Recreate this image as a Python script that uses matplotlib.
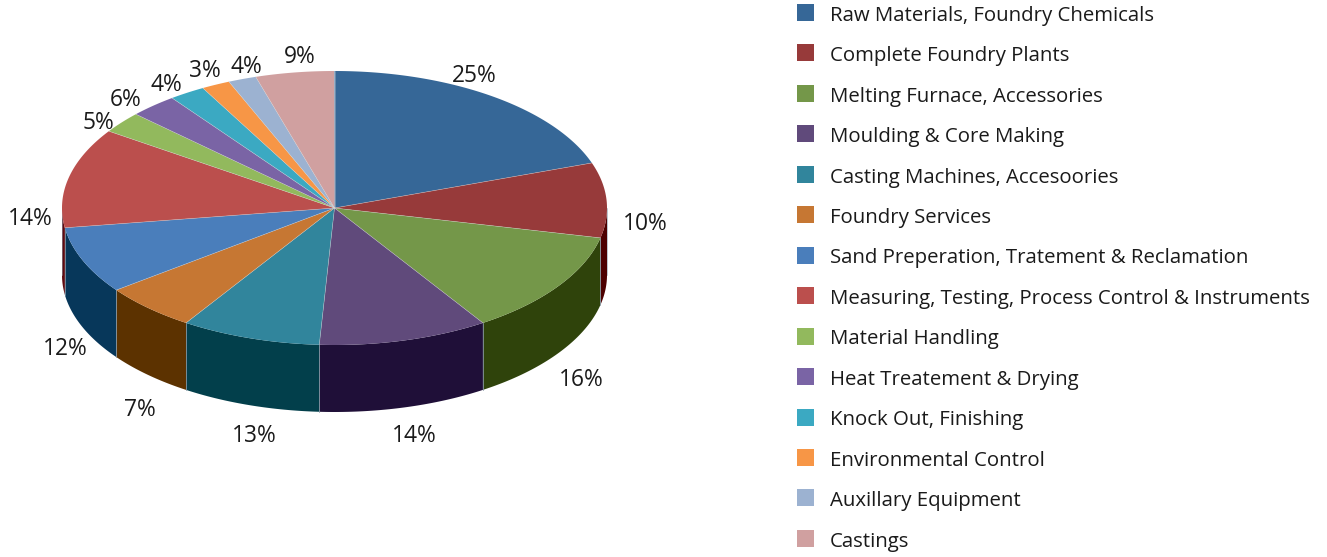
import numpy as np
import matplotlib
matplotlib.use('Agg')
import matplotlib.pyplot as plt
from matplotlib.patches import Rectangle

plt.rcParams['font.family'] = ['Open Sans', 'DejaVu Sans']

categories = ['Raw Materials, Foundry Chemicals', 'Complete Foundry Plants',
              'Melting Furnace, Accessories', 'Moulding & Core Making',
              'Casting Machines, Accesoories', 'Foundry Services',
              'Sand Preperation, Tratement & Reclamation',
              'Measuring, Testing, Process Control & Instruments',
              'Material Handling', 'Heat Treatement & Drying',
              'Knock Out, Finishing', 'Environmental Control',
              'Auxillary Equipment', 'Castings']
# printed labels do not add up to 100, so slice sizes are read separately
pct_labels = [25, 10, 16, 14, 13, 7, 12, 14, 5, 6, 4, 3, 4, 9]
slice_degrees = [70.8, 31.8, 44.4, 36.2, 29.8, 20.2, 28.5, 42.4, 9.1, 10.2, 7.7, 6.1, 6.0, 16.7]

top_colors = ['#366797', '#973A3A', '#749749', '#604A7B', '#31859C', '#C67733', '#4A7EBB',
              '#BB4F4D', '#92B95D', '#7A64A5', '#3BA9C2', '#F79646', '#9CB2D1', '#D0A0A0']
side_colors = ['#366797', '#4D0000', '#2F430B', '#1F0F38', '#023F4B', '#5C3200', '#07375A',
               '#5E0A10', '#92B95D', '#7A64A5', '#3BA9C2', '#F79646', '#9CB2D1', '#D0A0A0']

label_xy = [(474, 76), (645, 224), (581, 380), (414, 436), (254, 436), (140, 410), (65, 349),
            (30, 219), (98, 123), (126, 100), (166, 85), (205, 71), (246, 67), (300, 57)]

cx, cy, rx, ry, depth = 334.5, 208, 272.5, 137, 67


def rim(a, b):
    t = np.radians(np.linspace(a, b, 120))
    return cx + rx * np.sin(t), cy - ry * np.cos(t)


fig = plt.figure(figsize=(13.27, 5.57), dpi=100)
ax = fig.add_axes([0, 0, 1, 1])
ax.set_xlim(0, 1327)
ax.set_ylim(557, 0)
ax.axis('off')

edges = np.concatenate([[0], np.cumsum(slice_degrees)])

# side wall, only the front half of the rim shows
for i in range(len(slice_degrees)):
    a, b = max(edges[i], 90), min(edges[i + 1], 270)
    if b <= a:
        continue
    x, y = rim(a, b)
    ax.fill(np.r_[x, x[::-1]], np.r_[y, y[::-1] + depth], facecolor=side_colors[i],
            edgecolor='none', zorder=1)
    for xs, ys in ((x[0], y[0]), (x[-1], y[-1])):
        ax.plot([xs, xs], [ys, ys + depth], color='#8a9aa8', linewidth=0.4, zorder=1.5)

# top face, thin light lines on the radii only
for i in range(len(slice_degrees)):
    x, y = rim(edges[i], edges[i + 1])
    ax.fill(np.r_[cx, x], np.r_[cy, y], facecolor=top_colors[i], edgecolor='none', zorder=2)
for e in edges[:-1]:
    x, y = rim(e, e)
    ax.plot([cx, x[0]], [cy, y[0]], color='#d8d8d8', linewidth=0.4, alpha=0.6, zorder=3)

for (x, y), p in zip(label_xy, pct_labels):
    ax.text(x, y, f'{p}%', ha='center', va='center', fontsize=16.4, color='#1a1a1a')

# legend
for i, name in enumerate(categories):
    y = 12.5 + i * 40.45
    ax.add_patch(Rectangle((797, y - 8.5), 17, 17, facecolor=top_colors[i], edgecolor='none'))
    ax.text(830, y + 8.2, name, ha='left', va='baseline', fontsize=14.7, color='#1a1a1a')

fig.savefig('out.png', dpi=100)
